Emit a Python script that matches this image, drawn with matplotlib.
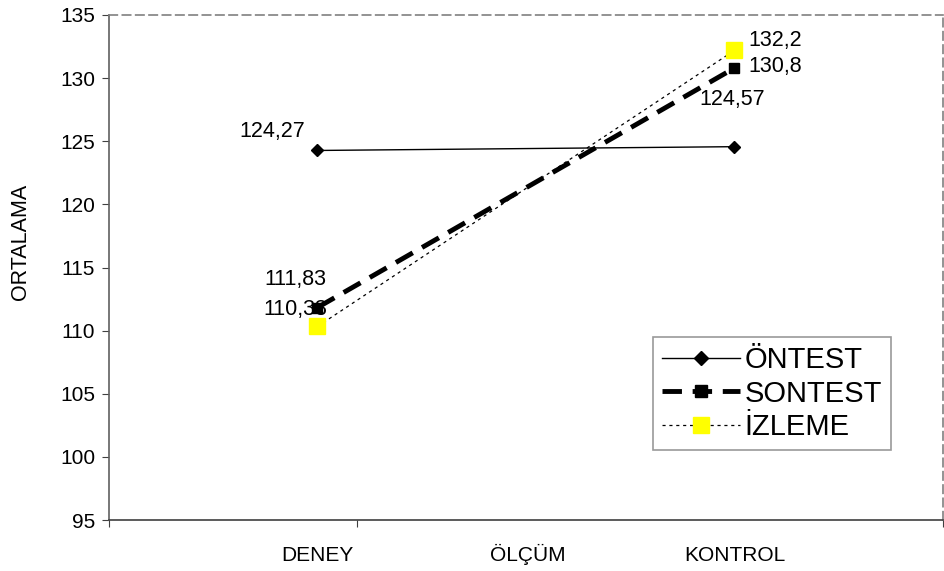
import matplotlib
matplotlib.use("Agg")
import matplotlib.pyplot as plt
from matplotlib.lines import Line2D

plt.rcParams['font.family'] = ['Liberation Sans', 'DejaVu Sans']

categories = ["DENEY", "KONTROL"]
x_title = "ÖLÇÜM"
y_title = "ORTALAMA"
series_names = ["ÖNTEST", "SONTEST", "İZLEME"]
ontest = [124.27, 124.57]
sontest = [111.83, 130.8]
izleme = [110.33, 132.2]
y_ticks = [95, 100, 105, 110, 115, 120, 125, 130, 135]

xpos = [1, 3]

fig = plt.figure(figsize=(9.45, 5.71), dpi=100)
ax = fig.add_axes([109/945, 1-520/571, (943-109)/945, (520-15)/571])

ax.plot(xpos, ontest, color='black', lw=1.0, marker='D', ms=6, label=series_names[0], zorder=3)
ax.plot(xpos, sontest, color='black', lw=3.5, dashes=(4, 2.2), marker='s', ms=7, label=series_names[1], zorder=4)
ax.plot(xpos, izleme, color='black', lw=0.9, dashes=(2.5, 3), marker='s', ms=12,
        markerfacecolor='#ffff00', markeredgecolor='#ffff00', label=series_names[2], zorder=2)

fs = 15.5
def fmt(v):
    s = f"{v:g}"
    return s.replace('.', ',')

def lab(v, x, y, dx, dy, ha):
    ax.annotate(fmt(v), (x, y), xytext=(dx, dy), textcoords='offset points',
                ha=ha, va='center', fontsize=fs, zorder=1)

lab(ontest[0], xpos[0], ontest[0], -9, 14, 'right')
lab(ontest[1], xpos[1], ontest[1], -2, 34, 'center')
lab(sontest[0], xpos[0], sontest[0], -16, 20, 'center')
lab(sontest[1], xpos[1], sontest[1], 10, 1, 'left')
lab(izleme[0], xpos[0], izleme[0], -16, 12, 'center')
lab(izleme[1], xpos[1], izleme[1], 10, 7, 'left')

ax.set_xlim(0, 4)
ax.set_ylim(95, 135)
ax.set_yticks(y_ticks)
ax.set_yticklabels([str(t) for t in y_ticks], fontsize=15)
ax.set_xticks([0, 1.19, 4])
ax.set_xticklabels([])
ax.tick_params(axis='both', direction='out', length=5, color='#404040', width=0.8)
ax.tick_params(axis='y', pad=5)

for i, c in enumerate(categories):
    ax.text(xpos[i], -0.081, c, transform=ax.get_xaxis_transform(), ha='center', va='baseline', fontsize=15)
ax.text(2.01, -0.081, x_title, transform=ax.get_xaxis_transform(), ha='center', va='baseline', fontsize=15)
ax.set_ylabel(y_title, fontsize=15.5)
ax.yaxis.set_label_coords(-0.093, 0.55)

for s in ['top', 'right']:
    ax.spines[s].set_linestyle((0, (5, 3)))
    ax.spines[s].set_color('#808080')
    ax.spines[s].set_linewidth(1.2)
ax.spines['left'].set_color('#606060')
ax.spines['left'].set_linewidth(1.2)
ax.spines['bottom'].set_color('#404040')
ax.spines['bottom'].set_linewidth(1.2)

handles = [
    Line2D([0], [0], color='black', lw=1.0, marker='D', ms=7),
    Line2D([0], [0], color='black', lw=3.5, dashes=(4, 2.2), marker='s', ms=8),
    Line2D([0], [0], color='black', lw=0.9, dashes=(2.5, 3), marker='s', ms=12,
           markerfacecolor='#ffff00', markeredgecolor='#ffff00'),
]
leg = ax.legend(handles, series_names, loc='upper left', bbox_to_anchor=((653-109)/834, 1-(337-15)/505),
                fontsize=21, frameon=True, fancybox=False, handlelength=2.7, handletextpad=0.15,
                borderpad=0.3, labelspacing=0.2, borderaxespad=0)
leg.get_frame().set_edgecolor('#808080')
leg.get_frame().set_linewidth(1.2)

fig.savefig("out.png", dpi=100)
